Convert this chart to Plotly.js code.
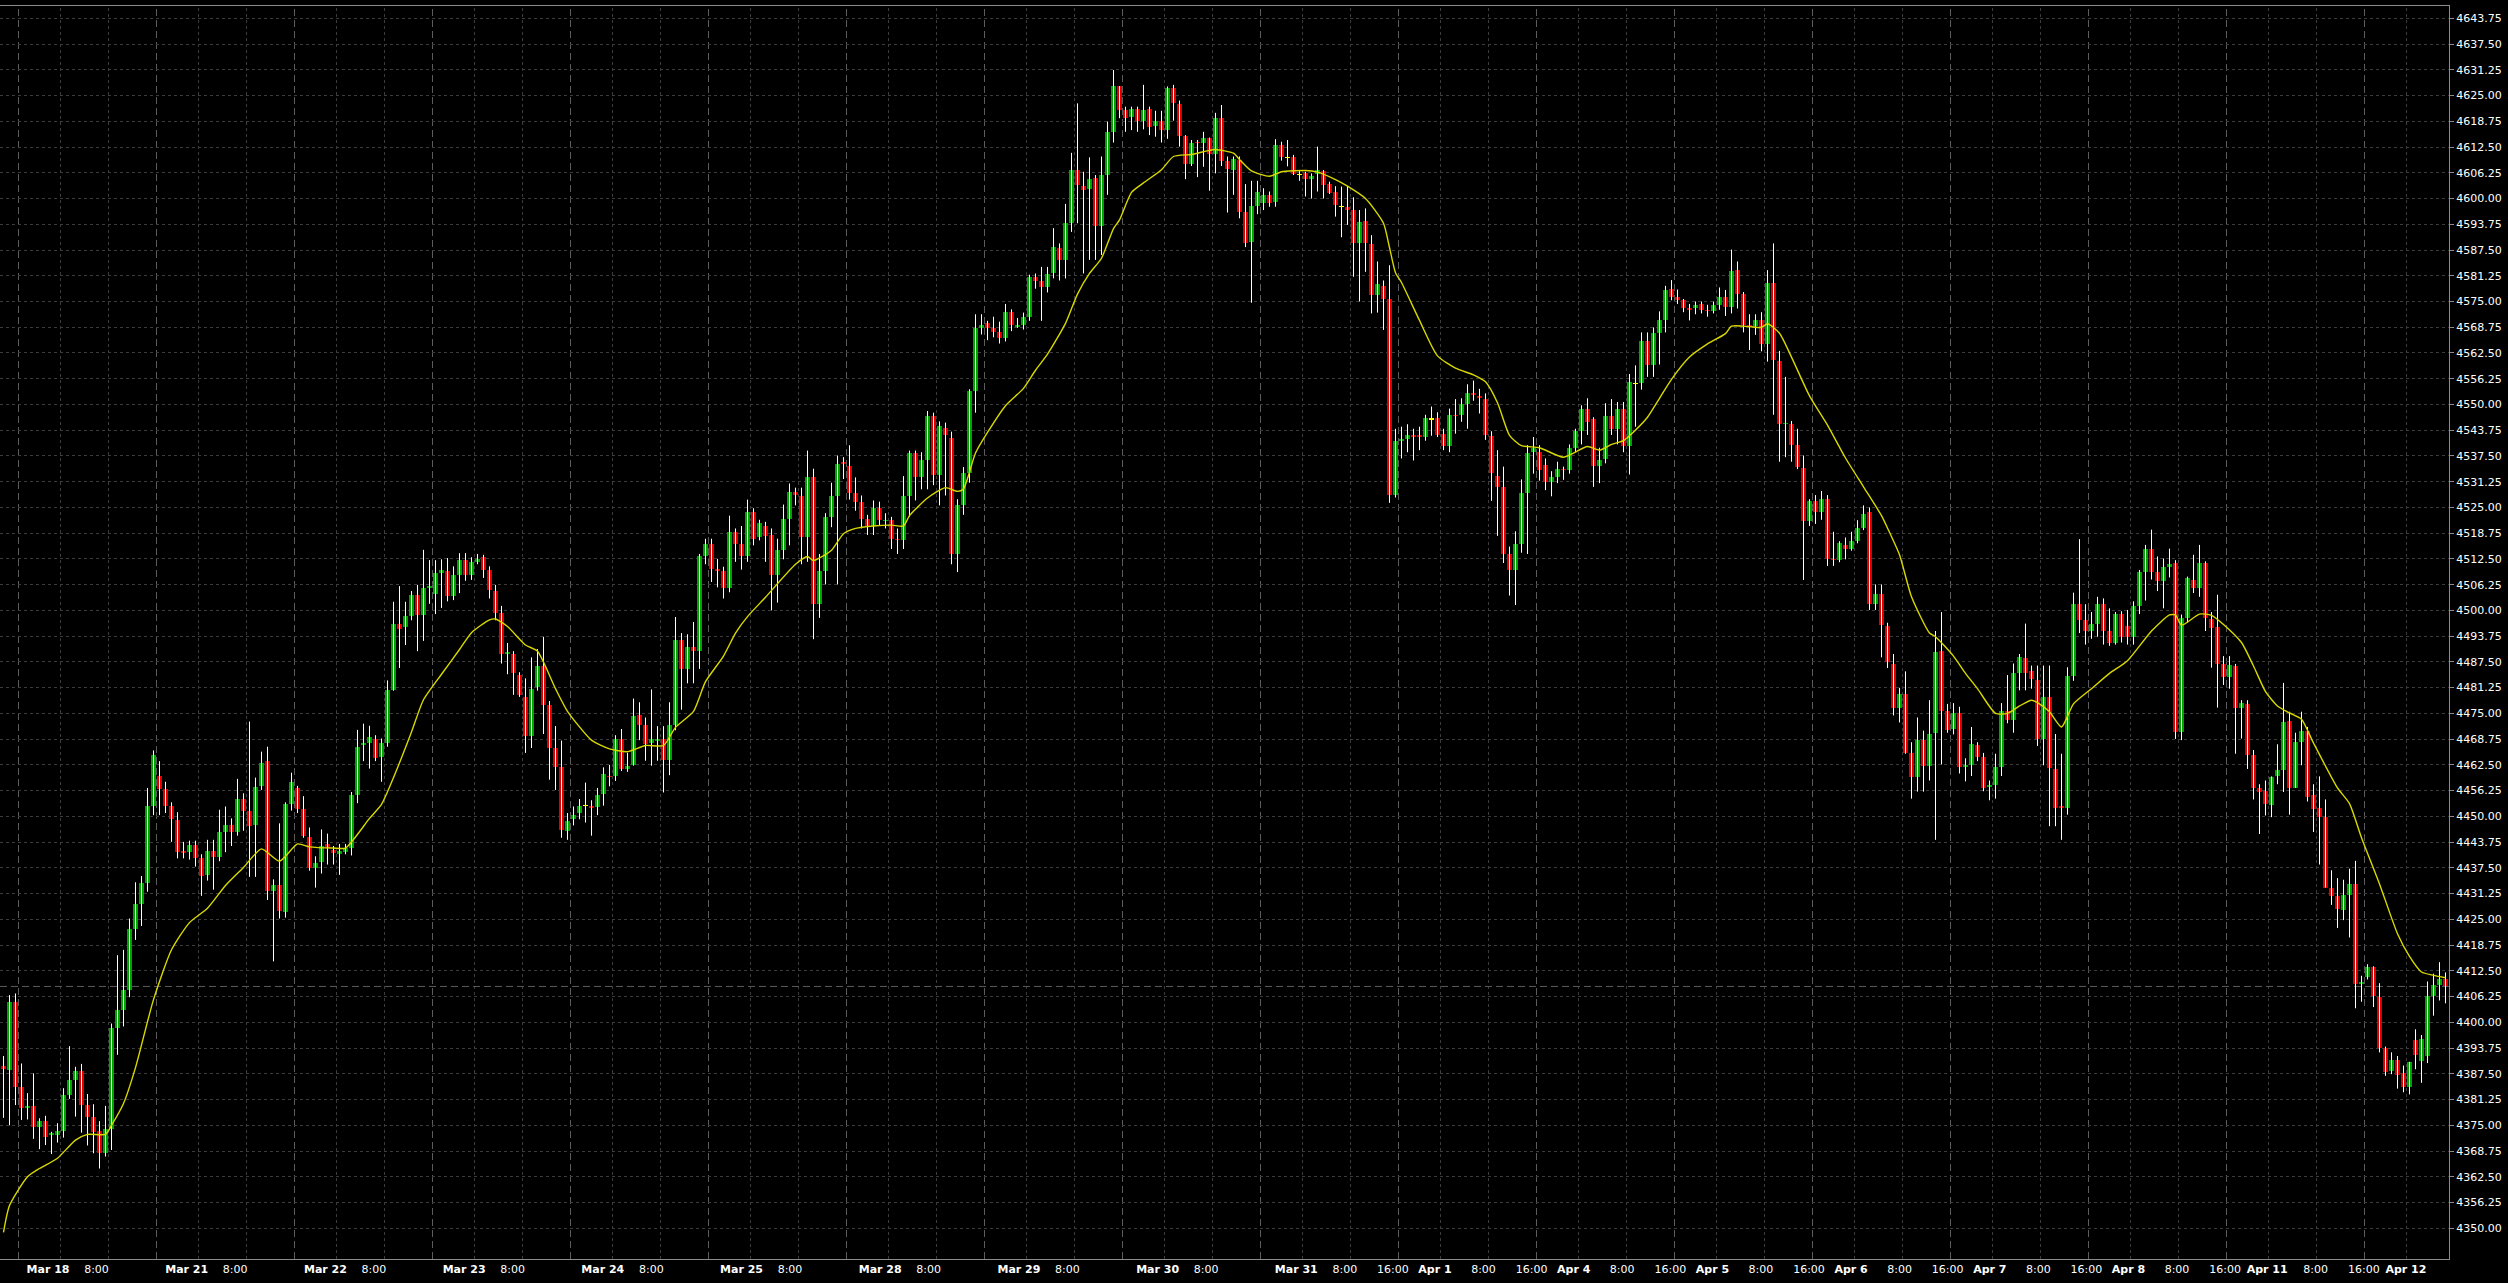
<!DOCTYPE html>
<html>
<head>
<meta charset="utf-8">
<script src="https://cdn.plot.ly/plotly-3.0.1.min.js"></script>
<style>
html,body{margin:0;padding:0;background:#000;overflow:hidden;}
#chart{width:2508px;height:1283px;}
</style>
</head>
<body>
<div id="chart"></div>
<script>
// ---- Hourly candles (bar index 0..407) ----
const openP = [
4389.4,4388.3,4405.0,4384.4,4379.2,4379.7,4374.7,4376.0,4372.7,4372.6,
4373.5,4382.3,4386.0,4388.2,4379.8,4377.1,4373.6,4368.2,4374.2,4398.5,
4403.0,4407.8,4422.7,4428.7,4433.9,4452.5,4459.9,4456.6,4452.4,4449.1,
4441.5,4441.3,4443.1,4439.8,4435.7,4441.6,4440.1,4446.1,4448.0,4446.3,
4454.1,4451.4,4447.8,4457.4,4463.4,4431.9,4433.4,4426.7,4452.9,4456.9,
4451.9,4445.1,4437.5,4439.0,4443.3,4441.8,4440.8,4441.3,4442.3,4455.2,
4467.4,4467.9,4468.7,4464.4,4467.9,4480.7,4496.8,4495.9,4498.6,4503.7,
4498.8,4505.5,4504.0,4509.1,4509.5,4503.5,4508.7,4512.2,4508.7,4511.7,
4512.9,4509.9,4504.7,4499.4,4489.4,4489.4,4484.3,4479.0,4469.5,4481.3,
4486.4,4477.0,4466.6,4461.9,4446.5,4449.3,4450.8,4452.4,4452.4,4452.2,
4455.4,4459.9,4459.8,4468.7,4461.6,4462.5,4474.6,4472.2,4467.8,4468.2,
4468.7,4463.8,4472.2,4492.9,4485.8,4491.0,4490.2,4513.1,4516.1,4510.0,
4509.6,4505.4,4519.0,4516.1,4513.1,4523.9,4517.8,4520.5,4518.3,4508.5,
4514.7,4522.3,4528.8,4527.7,4517.8,4532.3,4501.5,4509.6,4522.7,4527.7,
4536.0,4535.1,4528.5,4526.4,4522.1,4520.5,4524.8,4521.7,4522.0,4517.4,
4517.0,4527.7,4538.1,4532.3,4536.6,4547.2,4532.9,4544.3,4541.8,4513.7,
4525.5,4533.3,4553.3,4568.6,4569.8,4568.6,4567.6,4566.1,4572.5,4568.9,
4569.4,4571.3,4580.9,4579.9,4578.5,4582.0,4587.9,4585.1,4594.0,4606.9,
4603.0,4602.2,4604.9,4593.4,4605.7,4616.2,4627.2,4621.5,4619.9,4621.7,
4618.7,4621.7,4617.7,4618.7,4616.6,4626.9,4623.0,4615.2,4608.4,4613.8,
4613.4,4614.8,4610.8,4619.5,4609.0,4606.9,4609.4,4596.8,4589.5,4598.2,
4599.0,4600.9,4599.2,4613.0,4609.9,4610.0,4605.7,4606.3,4604.7,4606.0,
4606.7,4603.5,4601.6,4598.0,4598.0,4597.2,4589.3,4594.5,4588.9,4576.6,
4578.8,4575.6,4528.0,4541.2,4541.6,4542.7,4542.5,4542.0,4546.3,4546.6,
4542.9,4539.9,4547.5,4547.5,4550.0,4552.9,4552.1,4551.3,4542.4,4532.6,
4530.0,4513.8,4509.8,4516.1,4528.6,4538.5,4538.4,4535.3,4531.2,4532.3,
4534.3,4534.1,4539.5,4543.5,4549.0,4546.4,4535.0,4536.8,4547.1,4544.1,
4549.0,4539.9,4555.0,4555.2,4565.5,4559.5,4567.3,4570.4,4578.1,4576.1,
4575.3,4573.5,4573.5,4574.3,4573.0,4572.6,4574.1,4576.1,4573.6,4582.6,
4576.7,4569.3,4569.0,4570.4,4564.7,4579.6,4560.5,4545.2,4545.2,4540.1,
4534.6,4521.7,4526.5,4524.0,4527.0,4512.6,4512.3,4516.0,4514.9,4516.8,
4520.1,4524.0,4501.6,4504.1,4496.1,4487.1,4476.2,4479.6,4465.4,4459.5,
4468.5,4462.2,4470.3,4490.1,4475.6,4471.3,4475.2,4462.0,4462.4,4467.3,
4464.5,4457.2,4457.6,4462.0,4475.6,4473.4,4484.7,4488.4,4485.2,4483.0,
4468.9,4479.0,4461.5,4452.4,4452.0,4484.0,4501.6,4497.7,4495.0,4496.8,
4501.6,4494.9,4492.0,4499.1,4496.1,4493.6,4501.0,4509.4,4514.9,4509.4,
4507.2,4510.6,4511.5,4470.5,4498.2,4507.5,4505.4,4511.5,4497.9,4495.9,
4487.1,4483.8,4486.6,4476.2,4477.3,4464.8,4457.0,4456.1,4452.7,4459.8,
4461.3,4473.1,4457.0,4468.0,4470.8,4455.2,4452.0,4449.9,4432.5,4430.6,
4427.3,4431.0,4433.6,4409.3,4411.1,4413.4,4406.2,4393.8,4388.1,4390.9,
4387.6,4384.2,4395.7,4390.7,4391.8,4406.5,4409.0,4410.4
];
const highP = [
4391.8,4406.6,4407.0,4390.0,4382.8,4387.6,4376.7,4377.3,4373.4,4375.5,
4384.0,4394.2,4389.2,4389.9,4382.6,4380.1,4376.0,4379.7,4399.7,4416.3,
4417.6,4425.2,4434.0,4435.5,4456.9,4466.0,4463.4,4458.4,4453.4,4451.0,
4443.8,4444.1,4444.1,4440.8,4444.3,4444.3,4451.6,4452.4,4449.5,4459.1,
4455.6,4473.0,4459.4,4465.7,4466.9,4434.7,4448.3,4453.4,4460.6,4457.4,
4454.9,4447.3,4440.3,4446.8,4445.8,4442.8,4443.3,4443.3,4455.9,4471.0,
4472.5,4472.0,4469.7,4468.9,4483.0,4502.1,4505.9,4502.1,4504.7,4506.2,
4514.7,4512.2,4512.2,4512.4,4512.7,4510.7,4513.9,4513.9,4512.9,4513.7,
4513.5,4510.7,4506.2,4501.1,4492.1,4490.1,4485.0,4483.5,4488.6,4490.6,
4493.6,4478.0,4471.9,4468.4,4450.8,4452.4,4454.2,4458.2,4453.9,4456.9,
4461.9,4462.5,4469.7,4471.2,4465.4,4478.6,4477.7,4474.0,4480.8,4471.9,
4471.9,4477.7,4498.4,4494.5,4494.2,4497.2,4513.7,4517.4,4517.4,4512.5,
4510.6,4523.0,4519.9,4520.5,4526.9,4524.8,4522.0,4521.5,4519.9,4517.4,
4525.7,4530.8,4529.8,4529.8,4538.8,4534.4,4513.7,4523.6,4531.0,4537.6,
4537.2,4540.1,4532.3,4527.9,4523.2,4526.7,4526.4,4523.6,4522.7,4519.9,
4532.6,4538.8,4538.8,4538.4,4548.4,4548.0,4545.9,4545.6,4543.4,4527.0,
4534.8,4553.7,4571.9,4571.9,4570.3,4571.3,4570.1,4574.4,4573.1,4571.0,
4572.3,4581.5,4581.8,4583.4,4583.4,4592.8,4589.1,4598.7,4611.1,4623.1,
4606.5,4610.0,4605.7,4610.2,4618.7,4631.2,4627.3,4622.3,4622.3,4622.3,
4627.6,4622.3,4621.3,4621.3,4627.2,4627.6,4623.8,4615.4,4614.2,4614.2,
4616.2,4614.8,4620.8,4622.7,4610.2,4610.2,4610.2,4603.5,4604.3,4604.3,
4602.5,4601.7,4614.4,4613.8,4614.2,4610.6,4606.9,4606.5,4606.1,4612.6,
4606.9,4604.1,4603.0,4602.9,4603.0,4600.3,4597.2,4597.6,4591.1,4584.7,
4580.1,4583.8,4544.1,4544.6,4545.2,4544.1,4544.6,4547.5,4549.5,4548.1,
4544.1,4549.0,4551.3,4551.5,4554.9,4555.8,4553.8,4552.7,4543.5,4538.9,
4534.9,4515.5,4519.2,4531.8,4540.1,4542.1,4540.1,4536.9,4533.8,4536.1,
4534.9,4540.3,4544.1,4549.8,4551.5,4546.9,4539.5,4550.3,4551.3,4550.6,
4550.6,4557.4,4559.5,4567.5,4567.5,4568.7,4572.6,4578.8,4580.2,4577.9,
4575.6,4574.4,4575.0,4575.0,4574.2,4575.0,4578.4,4577.8,4587.6,4584.7,
4577.3,4571.9,4571.9,4572.4,4582.6,4589.1,4563.0,4556.7,4546.0,4544.1,
4537.6,4527.0,4528.0,4529.0,4528.0,4519.1,4516.8,4517.7,4519.1,4521.9,
4525.5,4525.0,4506.3,4506.3,4497.0,4489.4,4481.2,4485.2,4468.0,4474.0,
4470.8,4478.2,4495.0,4499.6,4477.3,4477.5,4476.6,4464.1,4471.7,4468.0,
4465.4,4458.7,4465.2,4477.5,4484.3,4487.1,4489.4,4496.8,4486.6,4486.6,
4486.6,4486.6,4470.0,4465.2,4486.2,4504.3,4517.3,4501.5,4499.6,4503.3,
4502.9,4500.5,4499.6,4499.8,4500.1,4502.2,4509.8,4515.9,4519.6,4513.1,
4512.6,4515.0,4512.2,4499.0,4508.2,4513.5,4515.9,4511.9,4499.6,4503.8,
4488.9,4488.9,4487.0,4478.2,4478.2,4466.1,4457.8,4458.7,4459.7,4467.5,
4482.4,4475.4,4470.3,4475.4,4471.7,4457.8,4459.7,4454.1,4436.9,4435.0,
4434.6,4437.3,4439.2,4411.3,4414.1,4413.6,4409.5,4394.1,4392.7,4391.8,
4389.5,4390.4,4398.3,4396.9,4409.9,4411.8,4414.6,4412.1
];
const lowP = [
4376.8,4375.0,4379.9,4376.3,4376.4,4371.7,4369.2,4370.2,4368.0,4370.8,
4372.0,4381.4,4377.1,4373.2,4370.1,4368.2,4364.5,4367.4,4369.0,4392.1,
4399.0,4406.1,4420.0,4423.4,4431.7,4450.3,4450.3,4450.8,4443.8,4439.8,
4439.8,4439.5,4437.8,4430.7,4434.4,4432.2,4439.1,4441.3,4442.8,4445.3,
4446.5,4435.3,4435.3,4456.4,4429.7,4414.8,4425.2,4425.4,4451.4,4450.8,
4444.8,4436.8,4432.7,4436.1,4438.3,4438.3,4435.8,4440.8,4440.5,4453.2,
4463.4,4461.6,4463.4,4458.4,4466.9,4480.5,4486.0,4491.6,4497.6,4490.1,
4492.6,4501.6,4499.1,4500.6,4502.2,4502.5,4504.2,4507.2,4507.4,4511.2,
4507.9,4502.9,4497.6,4487.1,4484.5,4479.5,4479.0,4465.4,4466.6,4480.5,
4470.0,4458.9,4456.4,4444.8,4444.3,4447.8,4449.3,4448.5,4445.3,4450.3,
4452.6,4457.3,4458.6,4461.0,4460.8,4462.3,4468.5,4463.5,4462.3,4463.5,
4455.8,4460.0,4470.9,4475.9,4482.3,4482.3,4485.8,4511.2,4506.9,4505.6,
4502.9,4504.4,4511.8,4509.9,4511.8,4515.8,4517.0,4511.8,4500.0,4501.9,
4512.4,4515.8,4525.5,4511.2,4511.8,4493.0,4498.2,4506.3,4520.2,4506.3,
4531.9,4526.9,4524.2,4519.9,4518.3,4518.3,4520.5,4519.9,4514.9,4513.7,
4514.9,4522.7,4526.7,4529.4,4529.4,4530.4,4525.5,4527.9,4511.2,4509.3,
4523.2,4531.0,4548.0,4567.0,4565.6,4566.3,4564.8,4565.3,4567.8,4568.6,
4568.2,4570.3,4578.1,4570.3,4577.2,4580.6,4580.1,4580.6,4591.9,4594.0,
4581.8,4585.1,4585.1,4586.3,4600.9,4613.6,4619.5,4616.2,4616.6,4616.2,
4616.8,4615.4,4615.0,4613.6,4614.5,4618.9,4612.6,4604.7,4607.9,4605.2,
4607.7,4601.9,4606.1,4607.9,4596.6,4600.9,4595.2,4588.2,4574.7,4596.2,
4597.2,4598.0,4598.0,4609.2,4607.8,4605.7,4604.3,4600.5,4600.0,4601.7,
4600.0,4601.1,4595.6,4590.6,4593.6,4581.0,4575.0,4582.2,4572.1,4572.3,
4568.1,4526.1,4527.4,4536.9,4538.4,4536.4,4538.9,4541.2,4542.4,4542.1,
4538.9,4538.4,4542.9,4545.8,4544.1,4550.9,4547.8,4541.4,4526.6,4518.1,
4511.5,4503.6,4501.3,4514.0,4513.7,4533.2,4531.5,4529.2,4527.7,4530.9,
4531.7,4533.2,4538.4,4540.3,4542.6,4530.0,4530.9,4535.7,4542.6,4540.3,
4538.4,4533.0,4544.6,4553.6,4556.7,4556.7,4559.7,4567.5,4575.3,4574.4,
4572.4,4570.4,4571.9,4572.1,4571.3,4572.1,4573.0,4571.5,4572.1,4573.3,
4567.5,4563.2,4566.9,4562.9,4560.4,4547.5,4536.1,4537.2,4536.1,4534.3,
4507.4,4520.5,4521.0,4522.0,4510.8,4510.8,4511.7,4512.4,4514.5,4516.3,
4519.5,4500.1,4500.1,4488.6,4486.0,4474.5,4472.8,4465.2,4454.3,4456.0,
4456.0,4458.7,4444.3,4462.6,4470.3,4469.9,4460.4,4458.5,4459.8,4463.4,
4456.1,4453.9,4454.3,4459.8,4472.6,4470.3,4480.6,4480.6,4481.0,4467.1,
4462.4,4447.6,4447.6,4444.3,4450.4,4482.9,4494.5,4491.7,4493.1,4493.6,
4491.7,4491.4,4491.7,4492.2,4491.7,4491.7,4499.1,4502.4,4507.5,4504.7,
4500.5,4508.0,4468.8,4468.5,4497.0,4504.2,4503.3,4495.0,4486.1,4476.4,
4481.9,4481.0,4465.2,4468.9,4461.5,4454.1,4445.7,4450.2,4449.8,4457.8,
4455.9,4450.4,4456.9,4462.4,4453.6,4446.2,4438.3,4432.7,4428.5,4422.9,
4424.8,4420.6,4403.4,4405.0,4410.4,4403.7,4392.7,4387.0,4387.4,4383.9,
4383.0,4382.5,4388.6,4385.3,4390.1,4401.6,4405.3,4404.6
];
const closeP = [
4388.6,4405.0,4384.4,4379.3,4379.7,4374.7,4376.0,4372.2,4373.1,4373.6,
4382.4,4386.0,4388.2,4379.8,4377.1,4373.4,4368.3,4374.2,4398.5,4403.0,
4407.8,4422.7,4428.7,4433.9,4452.5,4464.9,4456.6,4452.4,4449.3,4441.3,
4441.0,4443.1,4439.8,4435.5,4441.6,4440.1,4446.1,4448.0,4446.1,4454.1,
4451.4,4447.6,4457.2,4462.9,4431.9,4433.4,4426.9,4452.9,4458.4,4451.9,
4445.3,4437.5,4438.6,4442.8,4442.3,4441.0,4441.6,4442.3,4455.2,4466.9,
4467.9,4469.2,4464.1,4467.9,4480.7,4496.8,4495.4,4498.6,4503.7,4498.8,
4505.5,4505.9,4509.2,4509.7,4503.5,4508.7,4512.2,4508.7,4511.7,4512.5,
4509.9,4504.9,4499.4,4489.4,4489.9,4484.7,4479.5,4469.5,4481.0,4486.4,
4477.0,4466.6,4461.9,4446.8,4448.8,4450.3,4452.4,4452.4,4452.0,4455.1,
4460.2,4459.5,4468.7,4461.6,4462.2,4474.4,4472.2,4467.5,4468.8,4468.7,
4463.8,4472.2,4492.9,4485.8,4491.0,4490.2,4513.1,4516.1,4510.0,4509.6,
4505.4,4519.0,4516.1,4513.1,4523.9,4517.4,4521.1,4518.0,4508.5,4514.7,
4522.3,4528.8,4527.9,4517.8,4532.3,4501.5,4509.6,4522.7,4527.7,4535.6,
4535.6,4528.5,4526.4,4522.1,4520.5,4524.8,4522.0,4522.0,4517.4,4517.0,
4527.7,4538.1,4532.3,4536.4,4547.2,4532.9,4544.7,4542.5,4513.7,4525.5,
4533.3,4553.3,4568.6,4569.4,4568.6,4567.6,4566.1,4572.5,4569.4,4569.4,
4571.3,4580.9,4579.9,4578.5,4581.6,4588.3,4585.1,4594.0,4606.9,4603.3,
4602.1,4604.7,4593.4,4605.7,4616.2,4627.2,4621.5,4619.6,4621.7,4618.7,
4621.5,4617.4,4618.7,4616.6,4626.9,4623.3,4615.2,4608.4,4613.4,4613.4,
4614.8,4610.8,4619.5,4609.0,4607.1,4609.6,4596.8,4589.3,4598.2,4601.5,
4600.9,4598.8,4613.0,4610.2,4609.9,4606.0,4605.7,4604.7,4605.5,4606.9,
4603.3,4601.4,4598.4,4598.0,4597.2,4589.3,4594.4,4589.3,4576.6,4579.2,
4575.6,4528.0,4541.2,4541.7,4542.7,4542.0,4542.0,4546.6,4546.3,4542.6,
4539.9,4547.5,4547.1,4550.0,4552.9,4552.4,4551.5,4542.6,4533.4,4530.0,
4513.8,4509.8,4516.1,4528.6,4538.3,4539.5,4534.2,4531.2,4532.3,4534.3,
4534.0,4539.5,4543.5,4549.0,4545.8,4535.0,4536.6,4547.1,4544.1,4549.0,
4539.8,4555.5,4555.0,4565.5,4559.5,4567.3,4570.4,4577.9,4576.1,4575.3,
4573.5,4573.0,4574.2,4573.0,4572.6,4574.1,4576.1,4573.6,4582.4,4576.9,
4569.3,4568.7,4570.4,4564.7,4579.6,4560.9,4545.2,4545.6,4540.1,4534.9,
4521.7,4526.5,4524.0,4527.0,4512.6,4512.2,4516.3,4514.9,4516.8,4520.1,
4523.5,4501.6,4504.1,4496.4,4487.5,4476.2,4479.6,4465.4,4459.5,4468.6,
4462.2,4470.0,4489.8,4475.6,4471.0,4475.2,4462.0,4462.5,4467.6,4464.5,
4457.0,4457.6,4462.0,4475.6,4473.4,4484.7,4488.6,4484.9,4483.3,4468.9,
4479.0,4461.7,4452.0,4452.0,4484.0,4501.6,4497.7,4495.0,4496.8,4501.6,
4494.9,4492.0,4499.1,4493.6,4493.6,4501.0,4509.4,4514.9,4509.4,4507.2,
4510.6,4511.3,4470.5,4498.2,4507.8,4505.4,4511.5,4498.2,4495.7,4487.1,
4483.8,4486.8,4476.2,4477.5,4464.8,4457.0,4455.9,4452.9,4459.5,4461.3,
4472.8,4457.0,4468.0,4470.8,4454.8,4451.8,4449.9,4432.5,4430.6,4427.6,
4431.0,4433.6,4409.3,4409.9,4413.4,4406.5,4393.8,4387.9,4390.9,4387.3,
4384.4,4390.4,4392.0,4396.0,4406.5,4409.0,4410.4,4408.7
];

// ---- Moving average (yellow), read at these bar positions ----
const maBar = [0,1,4,6,9,12,14,17,18,20,22,25,28,31,34,37,40,43,46,49,51,55,57,61,63,65,68,70,73,76,78,81,82,84,87,89,92,94,98,101,
104,107,110,112,115,117,120,122,124,127,132,134,135,138,140,142,145,148,150,151,154,157,159,160,162,164,167,170,172,174,177,179,181,183,185,186,188,190,193,195,
198,201,202,205,206,208,211,213,217,219,222,224,227,230,231,232,233,236,239,242,245,247,249,251,253,256,260,264,266,268,270,271,274,276,278,281,284,287,288,291,
293,294,296,298,301,304,307,310,313,314,316,318,321,322,325,327,329,332,334,336,338,339,341,343,345,348,351,354,358,361,362,363,366,368,370,373,375,377,379,381,
383,385,389,391,393,396,399,401,403,405,407];
const maVal = [4349.0,4355.5,4362.5,4364.5,4367.0,4371.4,4372.8,4372.8,4375.0,4380.3,4389.0,4405.5,4417.6,4424.2,4427.7,4433.2,4437.6,4442.1,4439.1,4443.3,4442.6,4442.3,4442.3,4449.5,4452.9,4459.4,4470.5,4478.3,4484.5,4490.5,4494.6,4497.7,4497.9,4496.1,4491.6,4490.1,4481.0,4475.5,4468.5,4466.4,
4465.7,4467.2,4467.2,4471.6,4475.5,4482.7,4488.9,4494.5,4498.5,4503.2,4511.2,4513.1,4512.1,4514.6,4518.6,4519.9,4520.5,4520.7,4520.5,4523.0,4527.3,4529.8,4528.9,4529.5,4538.2,4543.2,4549.7,4553.9,4558.3,4562.2,4569.7,4576.8,4581.8,4585.5,4592.7,4594.8,4601.5,4603.8,4607.0,4610.2,
4610.7,4611.7,4611.9,4611.0,4609.5,4606.7,4605.4,4606.5,4606.8,4606.4,4604.6,4603.0,4600.0,4594.0,4588.1,4582.0,4579.6,4570.4,4561.8,4558.8,4557.2,4555.5,4550.4,4542.5,4540.0,4539.5,4537.2,4539.8,4538.9,4540.3,4541.2,4542.4,4546.9,4551.5,4556.1,4561.5,4564.7,4567.2,4569.0,4568.9,
4568.7,4569.6,4567.3,4561.5,4552.1,4545.0,4537.0,4530.0,4523.0,4520.0,4513.5,4503.3,4494.5,4493.6,4488.9,4484.7,4481.0,4475.0,4475.0,4476.8,4478.2,4477.6,4475.4,4471.7,4477.3,4481.0,4484.7,4487.8,4495.0,4498.9,4498.9,4496.4,4499.1,4498.8,4496.6,4492.2,4486.5,4480.3,4476.8,4475.1,
4473.6,4467.8,4456.9,4453.1,4444.8,4433.6,4421.5,4416.0,4412.2,4411.4,4410.8];

// ---- Axis labels ----
const dayNames = ['Mar 18','Mar 21','Mar 22','Mar 23','Mar 24','Mar 25','Mar 28','Mar 29','Mar 30',
                  'Mar 31','Apr 1','Apr 4','Apr 5','Apr 6','Apr 7','Apr 8','Apr 11','Apr 12'];
const hourLabels = ['8:00','16:00'];
const priceTicks = [];
for (let v = 4350; v <= 4643.76; v += 6.25) priceTicks.push(v);

// ---- geometry / style ----
const PX = 6;                // pixels per bar
const X0 = 3.5;              // pixel centre of bar 0
const PLOT_W = 2449;
const toBar = px => (px - X0) / PX;
const n = closeP.length;
const idx = Array.from({length:n}, (_, i) => i);

const GREEN = '#00a400', RED = '#dc0000', DOJI = '#ffff00', MA = '#d8d800';

// wicks
const wx = [], wy = [];
idx.forEach(i => { wx.push(i, i, null); wy.push(lowP[i], highP[i], null); });

// bodies
const base = idx.map(i => Math.min(openP[i], closeP[i]));
const hgt = idx.map(i => Math.max(Math.abs(closeP[i] - openP[i]), 0.3));
const col = idx.map(i => closeP[i] > openP[i] ? GREEN : (closeP[i] < openP[i] ? RED : DOJI));

// ticks
const tickvals = [], ticktext = [];
dayNames.forEach((d, k) => {
  const c = 48 + 138.7 * k;
  tickvals.push(toBar(c)); ticktext.push('<b>' + d + '</b>');
  if (k < 17) { tickvals.push(toBar(c + 48.5)); ticktext.push(hourLabels[0]); }
  if (k >= 9 && k < 17) { tickvals.push(toBar(c + 96.6)); ticktext.push(hourLabels[1]); }
});

// vertical grid shapes
const shapes = [];
for (let k = 0; k < 18; k++) {
  const b = 2.5 + 23 * k;
  shapes.push({type:'line', xref:'x', yref:'paper', x0:b, x1:b, y0:0, y1:1, layer:'below',
               line:{color:'#5c5c5c', width:1, dash:'7px,4px'}});
  [7, 15].forEach(o => {
    const m = b + o;
    if (m < 407.5) shapes.push({type:'line', xref:'x', yref:'paper', x0:m, x1:m, y0:0, y1:1, layer:'below',
               line:{color:'#3c3c3c', width:1, dash:'3px,3px'}});
  });
}
// last price line
shapes.push({type:'line', xref:'paper', yref:'y', x0:0, x1:1, y0:closeP[n-1], y1:closeP[n-1], layer:'below',
             line:{color:'#5c5c5c', width:1, dash:'7px,4px'}});

const r0 = -X0 / PX;
const traces = [
  {type:'scatter', mode:'lines', x:wx, y:wy, line:{color:'#ffffff', width:1}, hoverinfo:'skip', connectgaps:false},
  {type:'bar', x:idx, y:hgt, base:base, width:0.84, marker:{color:col, line:{width:0}}, hoverinfo:'skip'},
  {type:'scatter', mode:'lines', x:maBar, y:maVal, line:{color:MA, width:1.4, shape:'spline', smoothing:0.6}, hoverinfo:'skip'}
];

const layout = {
  width:2508, height:1283,
  paper_bgcolor:'#000000', plot_bgcolor:'#000000',
  margin:{l:0, r:59, t:6, b:24},
  showlegend:false,
  font:{family:'DejaVu Sans, sans-serif', size:11, color:'#ffffff'},
  xaxis:{
    range:[r0, r0 + PLOT_W / PX], showgrid:false, zeroline:false,
    tickmode:'array', tickvals:tickvals, ticktext:ticktext, ticks:'', ticklen:0,
    tickfont:{family:'DejaVu Sans, sans-serif', size:11, color:'#ffffff'},
    showline:true, linecolor:'#8c8c8c', linewidth:1, mirror:true, fixedrange:true
  },
  yaxis:{
    side:'right', range:[4342.53, 4646.74], tickmode:'array', tickvals:priceTicks,
    ticktext:priceTicks.map(v => v.toFixed(2)), ticks:'outside', ticklen:4, tickcolor:'#8c8c8c',
    tickfont:{family:'DejaVu Sans, sans-serif', size:11, color:'#ffffff'},
    showgrid:true, gridcolor:'#3c3c3c', griddash:'3px,3px', gridwidth:1, zeroline:false,
    showline:true, linecolor:'#8c8c8c', linewidth:1, mirror:true, fixedrange:true
  },
  bargap:0, shapes:shapes
};

Plotly.newPlot('chart', traces, layout, {staticPlot:true, displayModeBar:false});
</script>
</body>
</html>
